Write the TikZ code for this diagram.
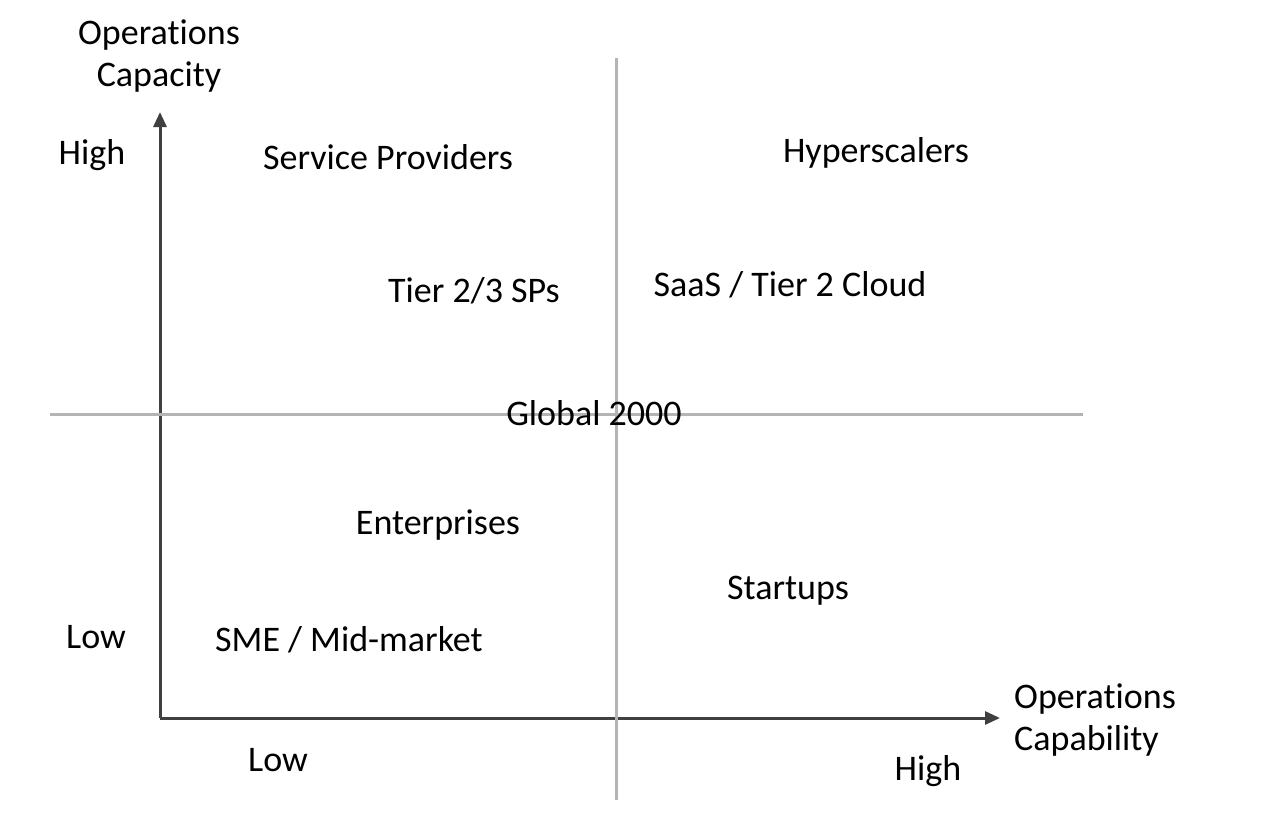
\documentclass[tikz,border=0pt]{standalone}
\usepackage{fontspec}
\setmainfont[Ligatures=NoCommon,RawFeature={-liga;-dlig}]{Carlito}
\usetikzlibrary{arrows.meta}
\definecolor{axisc}{HTML}{404040}
\definecolor{gridc}{HTML}{B4B4B4}
\tikzset{
  lbl/.style={font=\fontsize{36}{42}\selectfont, text=black, inner sep=0pt},
  axisline/.style={draw=axisc, line width=3pt, -{Triangle[length=15pt,width=13pt]}},
  gridline/.style={draw=gridc, line width=3pt},
}
\begin{document}
\begin{tikzpicture}[x=1pt,y=-1pt]
\useasboundingbox (0,0) rectangle (1282,816);
% axes
\coordinate (origin) at (160,718);
\coordinate (ytip) at (160,112);
\coordinate (xtip) at (1000,718);
\draw[axisline] (origin) -- (ytip);
\draw[axisline] (origin) -- (xtip);
% quadrant lines
\coordinate (hl) at (50,414);
\coordinate (hr) at (1083,414);
\coordinate (vt) at (616,58);
\coordinate (vb) at (616,800);
\draw[gridline] (hl) -- (hr);
\draw[gridline] (vt) -- (vb);
% labels
\node[lbl, align=center] (ycap) at (159,56) {Operations\\Capacity};
\node[lbl, align=left, anchor=west] (xcap) at (1014,720) {Operations\\Capability};
\node[lbl] (yhigh) at (92,155) {High};
\node[lbl] (ylow) at (96,637) {Low};
\node[lbl] (xlow) at (278,760) {Low};
\node[lbl] (xhigh) at (928,771) {High};
\node[lbl] (sp) at (388,157) {Service Providers};
\node[lbl] (hyper) at (876,153) {Hyperscalers};
\node[lbl] (tier) at (474,291) {Tier 2/3 SPs};
\node[lbl] (saas) at (790,285) {SaaS / Tier 2 Cloud};
\node[lbl] (global) at (594,413) {Global 2000};
\node[lbl] (ent) at (438,525) {Enterprises};
\node[lbl] (start) at (788,591) {Startups};
\node[lbl] (sme) at (349,640) {SME / Mid-market};
\end{tikzpicture}
\end{document}
